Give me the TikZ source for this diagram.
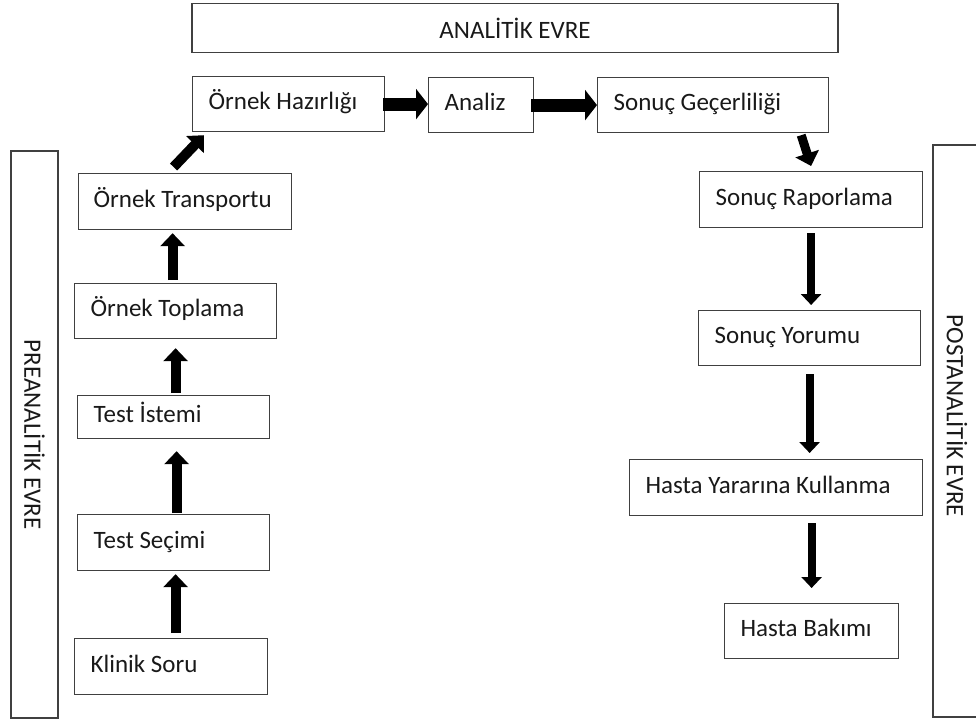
\documentclass[tikz,border=0pt]{standalone}
\usepackage{fontspec}
\setmainfont{Carlito}
\usetikzlibrary{arrows.meta,positioning}
\definecolor{boxLine}{RGB}{64,64,64}
\definecolor{textGray}{RGB}{25,25,25}

\tikzset{
  stageBox/.style={draw=boxLine, line width=1.2pt, anchor=north west, inner xsep=16pt,
    align=flush left, minimum height=55pt, text height=17pt, text depth=6pt, text=textGray,
    font=\fontsize{25}{29}\selectfont},
  phaseBox/.style={draw=boxLine, line width=1.2pt, text=textGray, inner sep=0pt,
    font=\fontsize{25}{29}\selectfont},
  phaseBar/.style={phaseBox, rotate=-90, minimum height=47pt},
  fatArrow/.style={line width=10pt, -{Triangle[width=24pt,length=13pt]}},
  wideArrow/.style={line width=13pt, -{Triangle[width=30pt,length=12pt]}},
  slimArrow/.style={line width=8pt, -{Triangle[width=20pt,length=11pt]}}
}

\begin{document}
\begin{tikzpicture}[x=1pt, y=-1pt]

\clip (0,0) rectangle (976,724);

% Phases
\node[phaseBox, minimum width=646pt, minimum height=49pt] (analitik) at (515,28) {ANALİTİK EVRE};
\node[phaseBar, minimum width=567pt] (preanalitik) at (34.5,434.5) {PREANALİTİK EVRE};
\node[phaseBar, minimum width=572pt, minimum height=48pt] (postanalitik) at (957,431) {POSTANALİTİK EVRE\kern30pt};

% Analytic steps
\node[stageBox, text width=160pt] (hazirlik) at (192,76) {Örnek Hazırlığı};
\node[stageBox, text width=73pt] (analiz) at (428,77) {Analiz};
\node[stageBox, text width=199pt] (gecerlilik) at (597,77) {Sonuç Geçerliliği};

% Preanalytic steps
\node[stageBox, inner xsep=15pt, text width=183pt, minimum height=56pt] (transport) at (78,173) {Örnek Transportu};
\node[stageBox, text width=170pt] (toplama) at (74,283) {Örnek Toplama};
\node[stageBox, text width=160pt, minimum height=43pt] (istemi) at (77,395) {Test İstemi};
\node[stageBox, text width=160pt, minimum height=56pt] (secimi) at (77,514) {Test Seçimi};
\node[stageBox, text width=161pt, minimum height=56pt] (klinik) at (74,638) {Klinik Soru};

% Postanalytic steps
\node[stageBox, text width=191pt, minimum height=56pt] (raporlama) at (699,171) {Sonuç Raporlama};
\node[stageBox, text width=190pt] (yorum) at (698,310) {Sonuç Yorumu};
\node[stageBox, text width=261pt, minimum height=56pt] (yararina) at (629,459) {Hasta Yararına Kullanma};
\node[stageBox, text width=142pt] (bakim) at (724,603) {Hasta Bakımı};

% Left column arrows
\draw[fatArrow] ([xshift=4.5pt,yshift=5pt]klinik.north) -- ([xshift=2pt,yshift=-3pt]secimi.south);
\draw[fatArrow] ([xshift=3pt,yshift=1pt]secimi.north) -- ([xshift=3pt,yshift=-12pt]istemi.south);
\draw[fatArrow] ([xshift=2pt,yshift=2pt]istemi.north) -- ([yshift=-9pt]toplama.south);
\draw[fatArrow] ([xshift=-3pt,yshift=3pt]toplama.north) -- ([xshift=-12.5pt,yshift=-3pt]transport.south);
\draw[fatArrow] ([xshift=-11.5pt,yshift=6pt]transport.north) -- ([xshift=12pt,yshift=-3pt]hazirlik.south west);

% Top row arrows
\draw[wideArrow, shorten <=-2pt] (hazirlik.east) -- (hazirlik.east -| analiz.west);
\draw[wideArrow, shorten <=-3pt] (analiz.east) -- (analiz.east -| gecerlilik.west);

% Right column arrows
\draw[fatArrow, line width=9pt] ([xshift=-28pt,yshift=-2pt]gecerlilik.south east) -- ([yshift=5pt]raporlama.north);
\draw[slimArrow, shorten <=5pt, shorten >=5pt] (raporlama.south) -- (raporlama.south |- yorum.north);
\draw[slimArrow, shorten <=8pt, shorten >=6pt] (yorum.south) -- (yorum.south |- yararina.north);
\draw[slimArrow, shorten <=7pt, shorten >=15pt] (yararina.south -| bakim.north) -- (bakim.north);

\end{tikzpicture}
\end{document}
